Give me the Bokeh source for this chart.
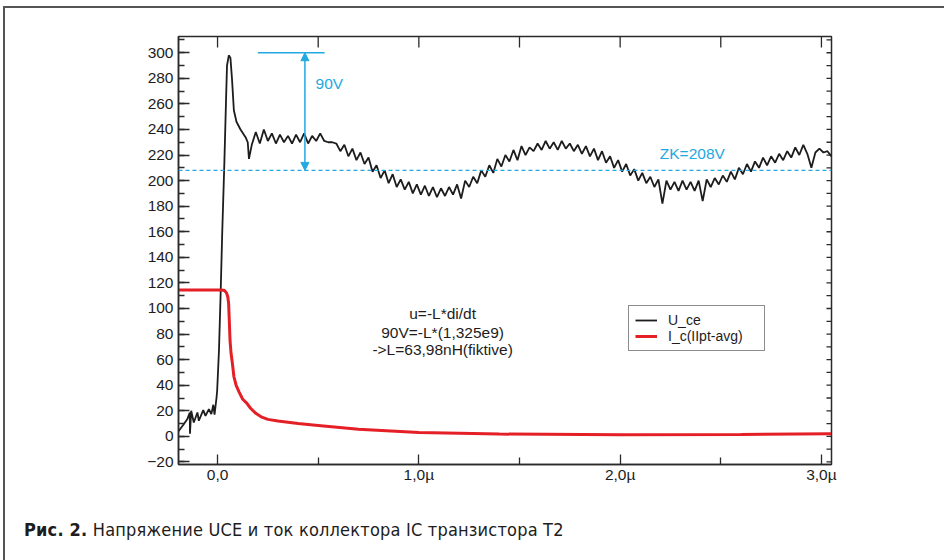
from bokeh.plotting import figure
from bokeh.layouts import column
from bokeh.models import (Range1d, LinearAxis, FixedTicker, Label, Arrow, NormalHead,
                          Span, Legend, LegendItem, Div)
from bokeh.embed import file_html
from bokeh.resources import INLINE

# ---------------- data ----------------
# U_ce: fast rising edge (t in microseconds, value in volts)
U_T_HEAD = [-0.194, -0.168, -0.15, -0.138, -0.137, -0.131, -0.118, -0.1, -0.093, -0.071,
            -0.06, -0.043, -0.031, -0.021, -0.015, -0.005, -0.002, 0.007, 0.015, 0.023,
            0.034, 0.042, 0.047, 0.056, 0.064, 0.072, 0.081, 0.094, 0.114, 0.139, 0.15, 0.156]
U_V_HEAD = [4, 9.5, 13.5, 18.7, 2, 20, 10.8, 18.7, 12.2, 20.5,
            16, 21.3, 17.4, 24.7, 16.9, 30.4, 35.7, 67, 110, 158,
            215, 262, 290, 298, 296, 279, 255, 246, 240, 234, 230, 217]
# U_ce: noisy ringing part, sampled every 0.02 us from 0.17 us
U_TAIL_START = 0.17
U_TAIL_STEP = 0.02
U_V_TAIL = [228, 238, 229, 240, 231, 237, 229, 236, 230, 235,
            229, 236, 230, 237, 229, 235, 231, 237, 231, 230,
            230, 229, 223, 228, 219, 225, 216, 222, 213, 218,
            207, 212, 202, 208, 198, 205, 195, 201, 193, 199,
            190, 197, 189, 196, 188, 195, 187, 194, 188, 195,
            189, 197, 186, 200, 195, 203, 198, 208, 203, 212,
            206, 217, 211, 220, 215, 224, 216, 227, 220, 226,
            223, 229, 224, 231, 225, 230, 224, 231, 225, 229,
            223, 228, 221, 227, 219, 225, 216, 223, 214, 219,
            210, 216, 207, 213, 204, 209, 200, 206, 198, 203,
            195, 201, 182, 200, 193, 199, 192, 200, 193, 199,
            192, 200, 184, 201, 195, 202, 197, 204, 199, 207,
            201, 210, 205, 213, 207, 215, 210, 218, 212, 219,
            214, 221, 216, 223, 218, 226, 220, 228, 221, 210,
            222, 225, 222, 223, 219]
U_T_TAIL = [round(U_TAIL_START + U_TAIL_STEP * i, 3) for i in range(len(U_V_TAIL))]

# I_c (IIpt-avg)
I_T = [-0.194, 0.0, 0.02, 0.035, 0.045, 0.051, 0.055, 0.058, 0.062, 0.067, 0.073, 0.081,
       0.092, 0.106, 0.125, 0.145, 0.164, 0.19, 0.22, 0.25, 0.3, 0.4, 0.5, 0.7, 1.0, 1.4,
       2.0, 2.6, 3.05]
I_V = [114.5, 114.5, 114.5, 114, 112, 109, 104, 92, 75, 65, 58, 47,
       40, 35, 29, 26, 22, 18, 15, 13.3, 12, 10, 8.5, 5.5, 3, 1.8,
       1.2, 1.5, 2]

ZK_LEVEL = 208
PEAK_LEVEL = 300
MARK_90V = dict(x0=0.2, x1=0.532, xa=0.434)

X_RANGE = (-0.194, 3.05)
Y_RANGE = (-22, 312.7)
X_TICKS = [0, 1, 2, 3]
X_TICK_LABELS = ["0,0", "1,0µ", "2,0µ", "3,0µ"]
X_MINOR = [0.5, 1.5, 2.5]
X_TOP_TICKS = [0, 0.5, 1, 1.5, 2, 2.5, 3]
Y_TICKS = list(range(-20, 301, 20))
Y_MINOR = list(range(-20, 311, 10))
Y_RIGHT_TICKS = list(range(-20, 311, 10))

NOTE_LINES = ["u=-L*di/dt", "90V=-L*(1,325e9)", "->L=63,98nH(fiktive)"]
NOTE_X = 1.118
NOTE_Y = [95.8, 81.4, 67.7]

CAPTION_BOLD = "Рис. 2."
CAPTION_TEXT = "Напряжение UCE и ток коллектора IC транзистора T2"

# ---------------- styling ----------------
BLUE = "#22a9e1"
BLACK = "#1e1c1c"
RED = "#e41f26"
FONT = "Liberation Sans"
FS = "15.5px"

FRAME_L, FRAME_W, FRAME_T, FRAME_H = 178, 653, 36, 428
W, H_FIG, H_CAP = 944, 490, 70

p = figure(width=W, height=H_FIG, output_backend="svg", toolbar_location=None,
           x_range=Range1d(*X_RANGE), y_range=Range1d(*Y_RANGE),
           min_border_left=FRAME_L, min_border_right=W - FRAME_L - FRAME_W,
           min_border_top=FRAME_T, min_border_bottom=H_FIG - FRAME_T - FRAME_H,
           x_axis_location=None, y_axis_location=None)
p.xgrid.visible = False
p.ygrid.visible = False
p.outline_line_color = "#2a2a2a"
p.outline_line_width = 1.5
p.background_fill_color = "white"
p.border_fill_color = "white"


def style_axis(ax):
    ax.axis_line_color = "#2a2a2a"
    ax.axis_line_width = 1.5
    ax.major_tick_line_color = "#2a2a2a"
    ax.minor_tick_line_color = "#2a2a2a"
    ax.major_tick_line_width = 1.3
    ax.minor_tick_line_width = 1.3
    ax.major_tick_out = 0
    ax.minor_tick_out = 0
    ax.major_label_text_font = FONT
    ax.major_label_text_font_size = FS
    ax.major_label_text_color = BLACK


left = LinearAxis(ticker=FixedTicker(ticks=Y_TICKS, minor_ticks=Y_MINOR))
style_axis(left)
left.major_tick_in = 11
left.minor_tick_in = 6
left.major_label_standoff = 5
p.add_layout(left, "left")

bottom = LinearAxis(ticker=FixedTicker(ticks=X_TICKS, minor_ticks=X_MINOR))
style_axis(bottom)
bottom.major_tick_in = 10
bottom.minor_tick_in = 7
bottom.major_label_standoff = 1
bottom.major_label_overrides = {t: s for t, s in zip(X_TICKS, X_TICK_LABELS)}
p.add_layout(bottom, "below")

# unlabeled ticks on the top and right frame edges
px_per_x = FRAME_W / (X_RANGE[1] - X_RANGE[0])
px_per_y = FRAME_H / (Y_RANGE[1] - Y_RANGE[0])
top_len = 11 / px_per_y
p.segment(x0=X_TOP_TICKS, y0=[Y_RANGE[1]] * len(X_TOP_TICKS),
          x1=X_TOP_TICKS, y1=[Y_RANGE[1] - top_len] * len(X_TOP_TICKS),
          line_color="#2a2a2a", line_width=1.3)
right_len = 5 / px_per_x
p.segment(x0=[X_RANGE[1]] * len(Y_RIGHT_TICKS), y0=Y_RIGHT_TICKS,
          x1=[X_RANGE[1] - right_len] * len(Y_RIGHT_TICKS), y1=Y_RIGHT_TICKS,
          line_color="#2a2a2a", line_width=1.3)

# reference level
p.add_layout(Span(location=ZK_LEVEL, dimension="width", line_color=BLUE,
                  line_width=1.2, line_dash="4 3"))

# curves
r_u = p.line(U_T_HEAD + U_T_TAIL, U_V_HEAD + U_V_TAIL, line_color=BLACK, line_width=1.8)
r_i = p.line(I_T, I_V, line_color=RED, line_width=3)

# 90V marker
p.segment(x0=[MARK_90V["x0"]], y0=[PEAK_LEVEL], x1=[MARK_90V["x1"]], y1=[PEAK_LEVEL],
          line_color=BLUE, line_width=1.5)
p.add_layout(Arrow(x_start=MARK_90V["xa"], y_start=ZK_LEVEL, x_end=MARK_90V["xa"], y_end=PEAK_LEVEL,
                   line_color=BLUE, line_width=1.5,
                   start=NormalHead(size=8, fill_color=BLUE, line_color=BLUE),
                   end=NormalHead(size=8, fill_color=BLUE, line_color=BLUE)))
p.add_layout(Label(x=0.487, y=275.7, text="90V", text_color=BLUE, text_font=FONT,
                   text_font_size=FS, text_baseline="middle"))
p.add_layout(Label(x=2.197, y=220.9, text="ZK=208V", text_color=BLUE, text_font=FONT,
                   text_font_size=FS, text_baseline="middle"))

for line, yv in zip(NOTE_LINES, NOTE_Y):
    p.add_layout(Label(x=NOTE_X, y=yv, text=line, text_color=BLACK, text_font=FONT,
                       text_font_size=FS, text_baseline="middle", text_align="center"))

legend = Legend(items=[LegendItem(label="U_ce", renderers=[r_u]),
                       LegendItem(label="I_c(IIpt-avg)", renderers=[r_i])],
                location=(450, 113))
legend.border_line_color = BLACK
legend.border_line_width = 1
legend.background_fill_color = "white"
legend.label_text_font = FONT
legend.label_text_font_size = "14px"
legend.label_text_color = BLACK
legend.label_height = 16
legend.label_width = 90
legend.glyph_height = 16
legend.glyph_width = 22
legend.label_standoff = 11
legend.spacing = 0
legend.padding = 6
legend.margin = 0
p.add_layout(legend)

# caption below the chart, plus the page frame (left and top edges)
caption_html = (
    '<div style="position:fixed;left:3px;top:6px;width:3000px;height:3000px;'
    'border-left:2px solid #555;border-top:2px solid #555;pointer-events:none;"></div>'
    '<div style="padding:29px 0 0 24px;margin:0;font-family:\'DejaVu Sans Condensed\';'
    'font-size:18px;line-height:21px;letter-spacing:0.2px;color:#1e1c1c;white-space:nowrap;">'
    '<b style="font-weight:900;">' + CAPTION_BOLD + '</b>&nbsp;' + CAPTION_TEXT + '</div>'
)
cap = Div(text=caption_html, width=W, height=H_CAP, margin=0)

layout = column(p, cap, spacing=0)
open("out.html", "w").write(file_html(layout, INLINE))
